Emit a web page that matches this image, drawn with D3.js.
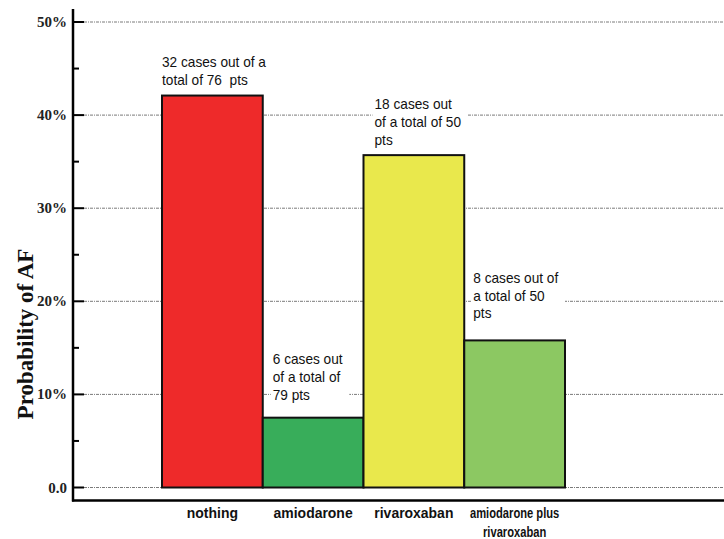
<!DOCTYPE html>
<html>
<head>
<meta charset="utf-8">
<script src="https://cdn.jsdelivr.net/npm/d3@7"></script>
<style>
	body { margin: 0; background: #ffffff; }
	svg { display: block; }
	text { white-space: pre; }
</style>
</head>
<body>
<svg id="chart" width="724" height="539"></svg>
<script>

// data
var categories = ["nothing", "amiodarone", "rivaroxaban", "amiodarone plus rivaroxaban"];
var values = [42.1, 7.5, 35.7, 15.8]; // percent
var barColors = ["#ee2a2a", "#38ad5a", "#e9e84c", "#8cc862"];
var annotations = [
	["32 cases out of a", "total of 76  pts"],
	["6 cases out", "of a total of", "79 pts"],
	["18 cases out", "of a total of 50", "pts"],
	["8 cases out of", "a total of 50", "pts"]
];
var majorTicks = [0, 10, 20, 30, 40, 50];
var minorTicks = [5, 15, 25, 35, 45];
var tickLabels = ["0.0", "10%", "20%", "30%", "40%", "50%"];
var categoryLines = [["nothing"], ["amiodarone"], ["rivaroxaban"], ["amiodarone plus", "rivaroxaban"]];

// layout
var AXIS_X = 73;
var AXIS_BOTTOM = 500.5;
var GRID_START = 84;
var WIDTH = 724;
var LINE_HEIGHT = 17.7;
// per-annotation nudges: x offset into band, gap between last line and bar top
var ANNOT_DX = [0, 10, 11, 9];
var ANNOT_GAP = [10.5, 18, 10.5, 22];
// the original type is a narrow face, squeeze the glyphs horizontally
var ANNOT_SQUEEZE = 0.91;
var CAT_SQUEEZE = [0.9, 0.9, 0.9, 0.72];

var svg = d3.select("#chart");

var x = d3.scaleBand()
	.domain(categories)
	.range([162, 565])
	.padding(0);

var y = d3.scaleLinear()
	.domain([0, 50])
	.range([487.5, 22]);

function squeeze(sel, ratio) {
	sel.each(function() {
		var w = this.getComputedTextLength();
		d3.select(this)
			.attr("textLength", w * ratio)
			.attr("lengthAdjust", "spacingAndGlyphs");
	});
}

// gridlines
svg.append("g").attr("class", "grid")
	.selectAll("line")
	.data(majorTicks)
	.enter().append("line")
	.attr("x1", GRID_START)
	.attr("x2", WIDTH)
	.attr("y1", function(d) { return y(d); })
	.attr("y2", function(d) { return y(d); })
	.attr("stroke", "#7a7a7a")
	.attr("stroke-width", 1)
	.attr("stroke-dasharray", "3,1,1,1");

// annotation text with white boxes behind
var annotG = svg.append("g").attr("class", "annotations");

for (var i = 0; i < annotations.length; i++) {
	var lines = annotations[i];
	var g = annotG.append("g");
	var tx = x(categories[i]) + ANNOT_DX[i];
	var lastBaseline = y(values[i]) - ANNOT_GAP[i];
	var firstBaseline = lastBaseline - (lines.length - 1) * LINE_HEIGHT;

	var box = g.append("rect").attr("fill", "#ffffff");

	var txt = g.append("text")
		.attr("font-family", "'Liberation Sans', Arial, sans-serif")
		.attr("font-size", "15px")
		.attr("fill", "#111111");

	var spans = txt.selectAll("tspan")
		.data(lines)
		.enter().append("tspan")
		.attr("x", tx)
		.attr("y", function(d, k) { return firstBaseline + k * LINE_HEIGHT; })
		.text(function(d) { return d; });
	squeeze(spans, ANNOT_SQUEEZE);

	var bb = txt.node().getBBox();
	box.attr("x", bb.x - 2)
		.attr("y", bb.y)
		.attr("width", bb.width + 8)
		.attr("height", bb.height);
}

// bars
svg.append("g").attr("class", "bars")
	.selectAll("rect")
	.data(values)
	.enter().append("rect")
	.attr("x", function(d, i) { return x(categories[i]); })
	.attr("y", function(d) { return y(d); })
	.attr("width", x.bandwidth())
	.attr("height", function(d) { return y(0) - y(d); })
	.attr("fill", function(d, i) { return barColors[i]; })
	.attr("stroke", "#111111")
	.attr("stroke-width", 2);

// y axis: line, ticks, labels
var axisG = svg.append("g").attr("class", "y-axis");

axisG.append("line")
	.attr("x1", AXIS_X).attr("x2", AXIS_X)
	.attr("y1", 9).attr("y2", AXIS_BOTTOM + 1)
	.attr("stroke", "#000").attr("stroke-width", 2.5);

axisG.selectAll("line.major")
	.data(majorTicks)
	.enter().append("line")
	.attr("class", "major")
	.attr("x1", AXIS_X).attr("x2", GRID_START)
	.attr("y1", function(d) { return y(d); })
	.attr("y2", function(d) { return y(d); })
	.attr("stroke", "#000").attr("stroke-width", 2);

axisG.selectAll("line.minor")
	.data(minorTicks)
	.enter().append("line")
	.attr("class", "minor")
	.attr("x1", AXIS_X).attr("x2", AXIS_X + 6)
	.attr("y1", function(d) { return y(d); })
	.attr("y2", function(d) { return y(d); })
	.attr("stroke", "#000").attr("stroke-width", 2);

axisG.selectAll("text.tick")
	.data(majorTicks)
	.enter().append("text")
	.attr("class", "tick")
	.attr("x", 67)
	.attr("y", function(d) { return y(d) + 5; })
	.attr("text-anchor", "end")
	.attr("font-family", "'Liberation Serif', 'Times New Roman', serif")
	.attr("font-weight", "bold")
	.attr("font-size", "15px")
	.attr("fill", "#222")
	.text(function(d, i) { return tickLabels[i]; });

svg.append("text")
	.attr("transform", "translate(33," + 334 + ") rotate(-90)")
	.attr("text-anchor", "middle")
	.attr("font-family", "'Liberation Serif', 'Times New Roman', serif")
	.attr("font-weight", "bold")
	.attr("font-size", "23px")
	.attr("fill", "#111")
	.text("Probability of AF");

// bottom axis line
svg.append("line")
	.attr("x1", AXIS_X - 1).attr("x2", WIDTH)
	.attr("y1", AXIS_BOTTOM).attr("y2", AXIS_BOTTOM)
	.attr("stroke", "#000").attr("stroke-width", 2.5);

// category labels
var catG = svg.append("g").attr("class", "categories");
for (var c = 0; c < categories.length; c++) {
	var cl = categoryLines[c];
	var cx = x(categories[c]) + x.bandwidth() / 2;
	var t = catG.append("text")
		.attr("text-anchor", "middle")
		.attr("font-family", "'Liberation Sans', Arial, sans-serif")
		.attr("font-weight", "bold")
		.attr("font-size", "15.5px")
		.attr("fill", "#111");
	var catSpans = t.selectAll("tspan")
		.data(cl)
		.enter().append("tspan")
		.attr("x", cx)
		.attr("y", function(d, k) { return 518 + k * 19; })
		.text(function(d) { return d; });
	squeeze(catSpans, CAT_SQUEEZE[c]);
}

</script>
</body>
</html>
